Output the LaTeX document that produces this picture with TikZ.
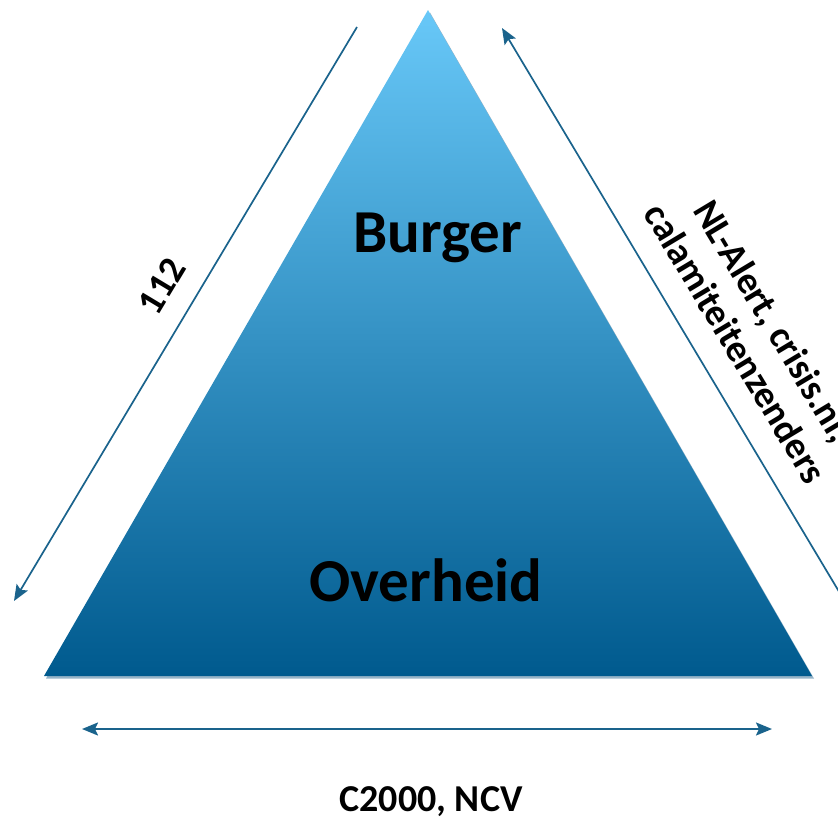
\documentclass[tikz,border=0pt]{standalone}
\usepackage{fontspec}
\setmainfont{Carlito}
\usetikzlibrary{arrows.meta}
\definecolor{arrowblue}{RGB}{26,99,140}
\definecolor{toplight}{RGB}{104,200,248}
\definecolor{botdark}{RGB}{0,90,142}
\definecolor{shadowc}{RGB}{150,180,200}
\tikzset{
  conn/.style={draw=arrowblue, line width=1.7pt, -{Stealth[length=16pt,width=13pt,inset=3pt]}},
  biconn/.style={draw=arrowblue, line width=2pt, {Stealth[length=16pt,width=13pt,inset=3pt]}-{Stealth[length=16pt,width=13pt,inset=3pt]}},
  bigtext/.style={font=\bfseries\fontsize{61}{72}\selectfont, text=black, inner sep=0pt},
  lbl/.style={font=\bfseries\fontsize{38}{44}\selectfont, text=black, inner sep=0pt, align=center},
}
\begin{document}
\begin{tikzpicture}[x=1pt,y=-1pt]
\useasboundingbox (0,0) rectangle (838,819);
\clip (0,0) rectangle (838,819);
\coordinate (apex) at (428,10);
\coordinate (bl) at (44,676);
\coordinate (br) at (812,676);
% shadow
\fill[shadowc] ([shift={(2,2.5)}]apex) -- ([shift={(2,2.5)}]br) -- ([shift={(2,2.5)}]bl) -- cycle;
\shade[top color=toplight, bottom color=botdark] (apex) -- (br) -- (bl) -- cycle;
\node[bigtext] (burger) at (438,238) {Burger};
\node[bigtext] (overheid) at (426,580) {Overheid};
% connectors
\coordinate (l1) at (357,27);
\coordinate (l2) at (14,601);
\draw[conn] (l1) -- (l2);
\coordinate (r1) at (850,610);
\coordinate (r2) at (502,28);
\draw[conn] (r1) -- (r2);
\coordinate (b1) at (82,729);
\coordinate (b2) at (772,729);
\draw[biconn] (b1) -- (b2);
\node[lbl, rotate=59] (l112) at (162,286) {112};
\node[lbl, rotate=-59] (lnl) at (755,332) {NL-Alert, crisis.nl,\\calamiteitenzenders};
\node[lbl] (lc) at (431,802) {C2000, NCV};
\end{tikzpicture}
\end{document}
